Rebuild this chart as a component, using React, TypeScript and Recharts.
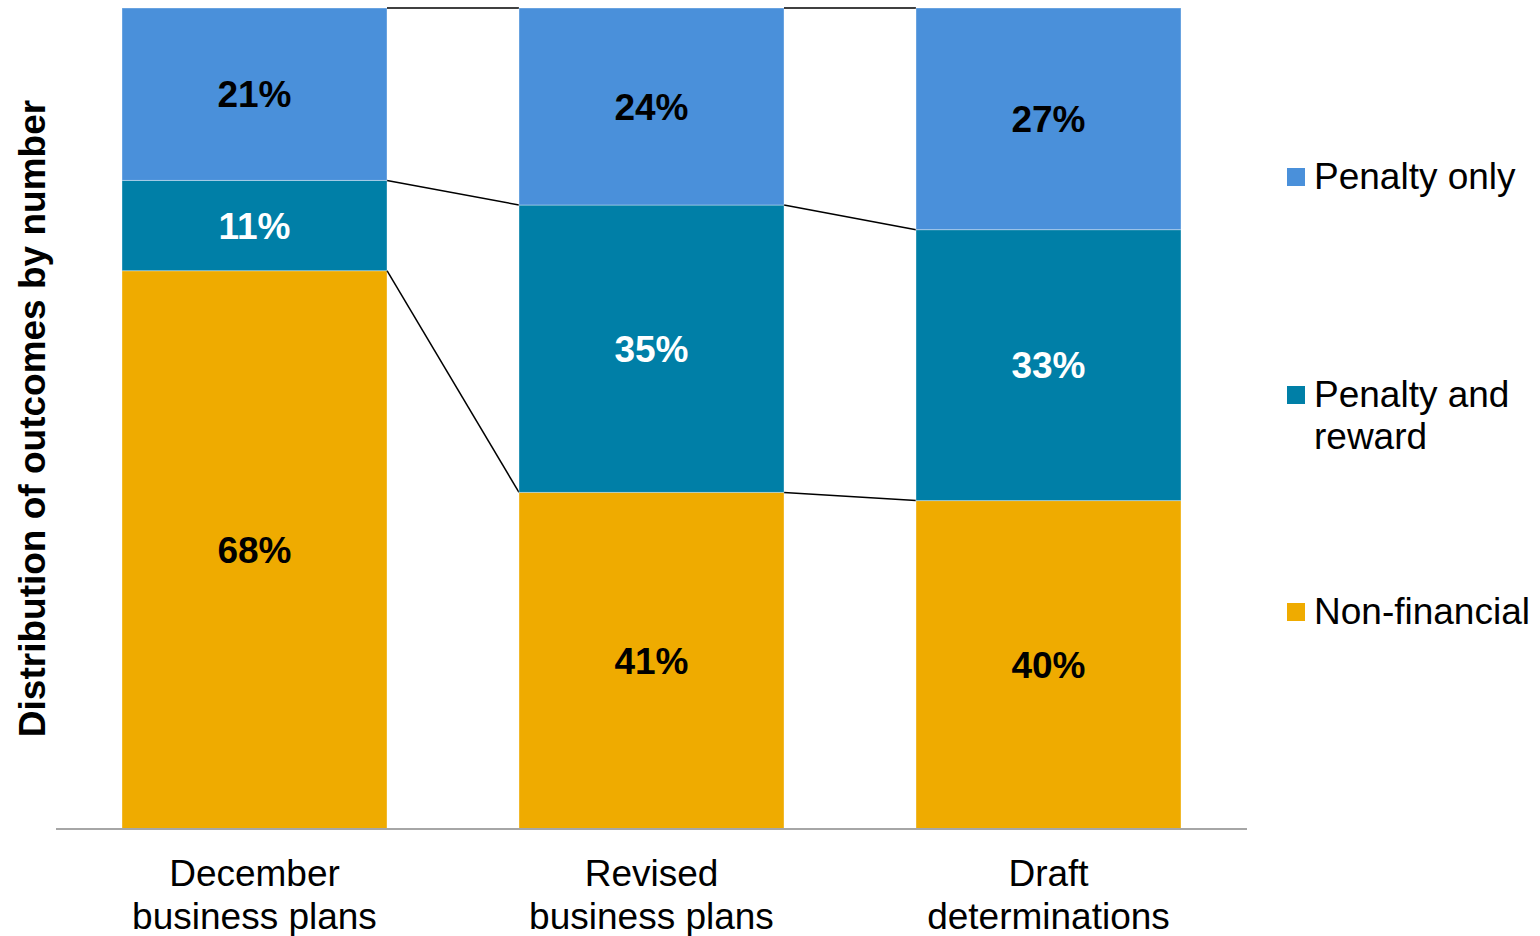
import React from 'react';
import { BarChart, Bar, XAxis, YAxis, Legend, LabelList } from 'recharts';

const categories = ['December business plans', 'Revised business plans', 'Draft determinations'];
const tickLines = [
  ['December', 'business plans'],
  ['Revised', 'business plans'],
  ['Draft', 'determinations'],
];
const nonFinancial = [68, 41, 40];
const penaltyAndReward = [11, 35, 33];
const penaltyOnly = [21, 24, 27];

const seriesKeys = ['nonFinancial', 'penaltyAndReward', 'penaltyOnly'];
const seriesNames = ['Non-financial', 'Penalty and reward', 'Penalty only'];
const seriesValues = [nonFinancial, penaltyAndReward, penaltyOnly];
const colors = ['#EFAB00', '#007FA7', '#4A90DA'];
const labelColors = ['#000000', '#FFFFFF', '#000000'];

const legendOrder = [2, 1, 0];
const legendLines = [['Non-financial'], ['Penalty and', 'reward'], ['Penalty only']];

const data = categories.map((c, i) => ({
  category: c,
  nonFinancial: nonFinancial[i],
  penaltyAndReward: penaltyAndReward[i],
  penaltyOnly: penaltyOnly[i],
}));

const FONT = '"Liberation Sans", Arial, sans-serif';
const CHART_W = 1540;
const CHART_H = 936;
const Y_W = 56;
const MARGIN = { top: 8, right: 293, bottom: 0, left: 0 };
const BAR_SIZE = 265;
const BAND = (CHART_W - Y_W - MARGIN.left - MARGIN.right) / categories.length;

const cumTop = (s: number, i: number) => {
  let t = 0;
  for (let k = 0; k <= s; k++) t += seriesValues[k][i];
  return t;
};

const makeShape = (s: number) => (props: any) => {
  const { x, y, width, height, index, fill } = props;
  const high = cumTop(s, index);
  const low = high - seriesValues[s][index];
  const ppu = height / (high - low);
  const pix = (v: number) => y + height - (v - low) * ppu;
  let connector = null;
  if (index < categories.length - 1) {
    const nextHigh = cumTop(s, index + 1);
    connector = (
      <line
        x1={x + width}
        y1={y}
        x2={x + BAND}
        y2={pix(nextHigh)}
        stroke="#000"
        strokeWidth={1.5}
      />
    );
  }
  return (
    <g>
      <rect x={x} y={y} width={width} height={height} fill={fill} stroke="rgba(255,255,255,0.35)" strokeWidth={1} />
      {connector}
    </g>
  );
};

const XTick = (props: any) => {
  const { x, y, payload } = props;
  const lines = tickLines[payload.index] || [String(payload.value)];
  return (
    <text x={x} y={y} textAnchor="middle" fontSize={37} fontFamily={FONT} fill="#000">
      {lines.map((l, i) => (
        <tspan key={i} x={x} dy={i === 0 ? 49 : 43}>
          {l}
        </tspan>
      ))}
    </text>
  );
};

const legendTops = [0, 218, 435];

const LegendContent = () => (
  <div style={{ position: 'relative', width: 255, height: 500, fontFamily: FONT }}>
    {legendOrder.map((s, k) => (
      <div key={s} style={{ position: 'absolute', left: 0, top: legendTops[k] }}>
        <div
          style={{
            position: 'absolute',
            left: 2,
            top: 12,
            width: 18,
            height: 18,
            background: colors[s],
          }}
        />
        <div
          style={{
            position: 'absolute',
            left: 29,
            top: 0,
            fontSize: 37,
            lineHeight: '42px',
            color: '#000',
            whiteSpace: 'nowrap',
          }}
        >
          {legendLines[s].map((l, i) => (
            <div key={i}>{l}</div>
          ))}
        </div>
      </div>
    ))}
  </div>
);

export default function App() {
  return (
    <div style={{ position: 'absolute', left: 0, top: 0, fontFamily: FONT }}>
      <BarChart width={CHART_W} height={CHART_H} data={data} margin={MARGIN} barSize={BAR_SIZE}>
        <XAxis
          dataKey="category"
          height={107}
          tickLine={false}
          axisLine={{ stroke: '#A6A6A6', strokeWidth: 2 }}
          tick={<XTick />}
          interval={0}
        />
        <YAxis
          width={Y_W}
          domain={[0, 100]}
          tick={false}
          axisLine={false}
          tickLine={false}
          label={{
            value: 'Distribution of outcomes by number',
            angle: -90,
            position: 'center',
            dx: 4,
            style: { fontSize: 37, fontWeight: 'bold', fill: '#000', fontFamily: FONT },
          }}
        />
        <Legend
          layout="horizontal"
          verticalAlign="middle"
          align="center"
          width={255}
          wrapperStyle={{ left: 1285, top: 156, width: 255 }}
          content={<LegendContent />}
        />
        {seriesKeys.map((k, s) => (
          <Bar
            key={k}
            dataKey={k}
            name={seriesNames[s]}
            stackId="a"
            fill={colors[s]}
            isAnimationActive={false}
            shape={makeShape(s)}
          >
            <LabelList
              dataKey={k}
              position="center"
              formatter={(v: any) => `${v}%`}
              fill={labelColors[s]}
              fontSize={37}
              fontWeight="bold"
              fontFamily={FONT}
            />
          </Bar>
        ))}
      </BarChart>
    </div>
  );
}
